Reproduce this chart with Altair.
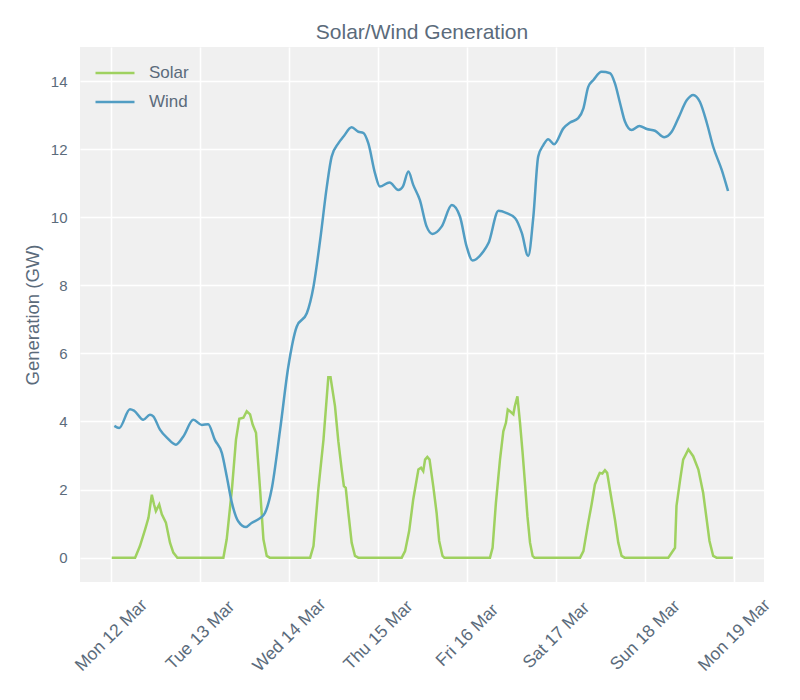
import altair as alt
import pandas as pd

# Hours after Mon 12 Mar 2018 00:00 and generation (GW)
wind_h = [0.9, 2.2, 5.1, 6.2, 8.7, 10.5, 11.4, 13.2, 15.2, 17.5, 19.5, 22.2, 24.5, 26.2, 28.0, 29.9, 31.2, 32.6,
          34.3, 36.4, 37.9, 40.2, 41.5, 43.3, 45.6, 47.8, 50.1, 52.8, 54.6, 56.4, 58.2, 59.5, 61.3, 62.7, 64.9,
          66.7, 68.0, 69.4, 71.2, 72.5, 75.1, 77.5, 78.7, 80.2, 81.5, 83.3, 85.1, 86.7, 89.2, 91.9, 94.1, 95.9,
          97.5, 100.4, 101.8, 104.5, 106.7, 109.0, 110.8, 112.5, 113.9, 115.2, 116.6, 117.9, 119.5, 122.0, 123.8,
          126.0, 127.4, 128.7, 130.1, 132.3, 134.6, 135.9, 137.3, 138.6, 140.4, 142.5, 144.5, 146.7, 149.2, 151.2,
          153.0, 155.3, 157.0, 158.8, 160.7, 162.4, 164.7, 166.4]
wind_v = [3.87, 3.81, 4.36, 4.32, 4.05, 4.20, 4.15, 3.76, 3.51, 3.32, 3.56, 4.05, 3.90, 3.92, 3.46, 3.07, 2.39, 1.61,
          1.07, 0.90, 1.02, 1.16, 1.31, 2.0, 3.76, 5.6, 6.79, 7.18, 7.96, 9.33, 10.9, 11.78, 12.17, 12.37, 12.64,
          12.51, 12.48, 12.17, 11.29, 10.9, 11.02, 10.8, 10.9, 11.34, 10.95, 10.5, 9.73, 9.51, 9.73, 10.36, 10.02,
          9.14, 8.73, 8.99, 9.24, 10.19, 10.12, 9.97, 9.53, 8.86, 10.02, 11.78, 12.12, 12.29, 12.14, 12.61, 12.78,
          12.91, 13.2, 13.83, 14.03, 14.27, 14.23, 13.93, 13.34, 12.81, 12.56, 12.68, 12.59, 12.54, 12.35, 12.51,
          12.91, 13.44, 13.59, 13.39, 12.76, 12.07, 11.39, 10.77]

solar_h = [0.2, 6.5, 7.8, 9.2, 10.1, 11.0, 11.6, 12.1, 13.0, 13.7, 14.8, 15.9, 16.8, 17.9,
           30.3, 31.2, 32.6, 33.7, 34.6, 35.7, 36.6, 37.5, 38.2, 39.1, 40.2, 41.1, 42.0, 42.8,
           53.7, 54.6, 55.9, 57.3, 58.6, 59.2, 60.4, 61.3, 62.2, 62.8, 63.3, 64.0, 64.9, 65.8, 66.7,
           78.4, 79.3, 80.4, 81.5, 82.9, 83.6, 84.2, 84.7, 85.3, 85.9, 86.9, 87.8, 88.5, 89.4, 89.9,
           102.2, 102.9, 103.8, 104.9, 105.8, 106.5, 107.0, 107.6, 108.5, 108.9, 109.6, 110.3, 111.0, 111.7,
           112.3, 113.0, 113.7, 114.2,
           126.5, 127.4, 128.7, 129.6, 130.5, 131.4, 131.8, 132.5, 133.2, 133.8, 134.7, 135.9, 136.8, 137.7, 138.5,
           150.3, 152.1, 152.5, 153.5, 154.3, 155.7, 157.0, 158.4, 159.7, 161.4, 162.4, 163.3, 167.7]
solar_v = [0, 0, 0.34, 0.83, 1.17, 1.85, 1.56, 1.37, 1.56, 1.27, 1.03, 0.44, 0.15, 0,
           0, 0.54, 2.0, 3.47, 4.08, 4.11, 4.30, 4.21, 3.91, 3.67, 2.0, 0.54, 0.05, 0,
           0, 0.34, 2.0, 3.47, 5.3, 5.3, 4.45, 3.42, 2.6, 2.10, 2.05, 1.32, 0.44, 0.05, 0,
           0, 0.19, 0.78, 1.71, 2.59, 2.64, 2.54, 2.88, 2.96, 2.88, 2.10, 1.32, 0.49, 0.05, 0,
           0, 0.29, 1.61, 2.88, 3.71, 3.96, 4.35, 4.30, 4.21, 4.45, 4.74, 3.96, 3.08, 2.10,
           1.22, 0.44, 0.05, 0,
           0, 0.19, 1.03, 1.56, 2.15, 2.39, 2.49, 2.47, 2.57, 2.49, 1.90, 1.12, 0.44, 0.05, 0,
           0, 0.29, 1.52, 2.30, 2.88, 3.18, 2.98, 2.59, 1.90, 0.49, 0.05, 0, 0]

series = ["Solar", "Wind"]
colors = ["#9fd160", "#519dc3"]
y_ticks = [0, 2, 4, 6, 8, 10, 12, 14]
day_ticks = [12, 13, 14, 15, 16, 17, 18, 19]

start = pd.Timestamp("2018-03-12 00:00")
def to_time(hours):
    return [(start + pd.Timedelta(hours=h)).strftime("%Y-%m-%dT%H:%M:%S") for h in hours]

df = pd.concat([
    pd.DataFrame({"time": to_time(solar_h), "value": solar_v, "series": "Solar", "order": range(len(solar_h))}),
    pd.DataFrame({"time": to_time(wind_h), "value": wind_v, "series": "Wind", "order": range(len(wind_h))}),
])

text_color = "#5b6b7b"
font = "Liberation Sans"

x = alt.X(
    "time:T",
    title=None,
    scale=alt.Scale(domain=[alt.DateTime(year=2018, month=3, date=11, hours=15, minutes=38),
                            alt.DateTime(year=2018, month=3, date=19, hours=8, minutes=6)]),
    axis=alt.Axis(values=[alt.DateTime(year=2018, month=3, date=d) for d in day_ticks],
                  format="%a %d %b", labelAngle=-45, labelAlign="center", labelBaseline="middle",
                  labelPadding=53, labelFontSize=17.5, labelOverlap=False),
)
y = alt.Y(
    "value:Q",
    title="Generation (GW)",
    scale=alt.Scale(domain=[-0.715, 15.0], nice=False, zero=False),
    axis=alt.Axis(values=y_ticks, labelFontSize=15, titleFontSize=18.5, titlePadding=8, labelPadding=13),
)

base = alt.Chart(df)
solar = base.transform_filter(alt.datum.series == "Solar").mark_line(strokeWidth=2.5, interpolate="linear").encode(
    x=x, y=y, order="order:Q",
    color=alt.Color("series:N", scale=alt.Scale(domain=series, range=colors),
                    legend=alt.Legend(title=None, orient="none", legendX=14, legendY=5,
                                      symbolType="stroke", symbolSize=1521, symbolStrokeWidth=2.5,
                                      labelFontSize=17, labelColor=text_color, labelFont=font,
                                      labelOffset=13, rowPadding=-4)),
)
wind = base.transform_filter(alt.datum.series == "Wind").mark_line(strokeWidth=2.5, interpolate="monotone").encode(
    x=x, y=y, order="order:Q", color=alt.Color("series:N", scale=alt.Scale(domain=series, range=colors)),
)

chart = alt.layer(solar, wind).properties(
    width=684, height=535,
    autosize=alt.AutoSizeParams(type="none"),
    padding={"left": 72, "top": 39, "right": 28, "bottom": 110},
    title=alt.TitleParams("Solar/Wind Generation", fontSize=21, font=font, color=text_color,
                          fontWeight="normal", offset=4),
).configure_view(
    fill="#f0f0f0", strokeWidth=0
).configure_axis(
    grid=True, gridColor="#ffffff", gridOpacity=1, gridWidth=1.5,
    domain=False, ticks=False,
    labelColor=text_color, labelFont=font,
    titleColor=text_color, titleFont=font, titleFontWeight="normal",
)

chart.save("out.html", embed_options={"renderer": "svg", "actions": False})
